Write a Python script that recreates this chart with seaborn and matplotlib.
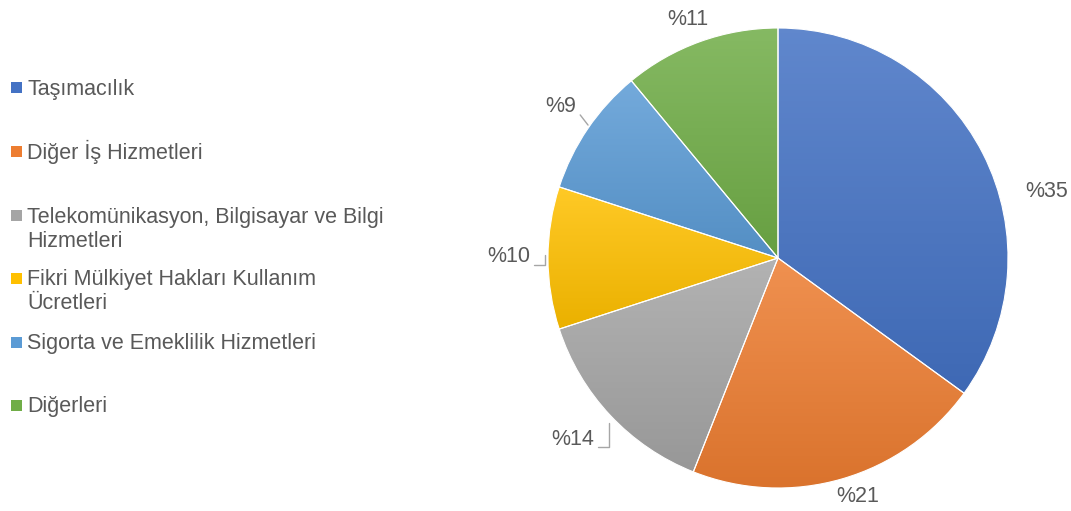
import numpy as np
import matplotlib
matplotlib.use("Agg")
import matplotlib.pyplot as plt
import matplotlib.colors as mcolors
from matplotlib.patches import Rectangle
import seaborn as sns

# veriler
categories = ["Taşımacılık", "Diğer İş Hizmetleri",
              "Telekomünikasyon, Bilgisayar ve Bilgi\nHizmetleri",
              "Fikri Mülkiyet Hakları Kullanım\nÜcretleri",
              "Sigorta ve Emeklilik Hizmetleri", "Diğerleri"]
shares = [35, 21, 14, 10, 9, 11]
pct_labels = ["%35", "%21", "%14", "%10", "%9", "%11"]
colors = ["#4472C4", "#ED7D31", "#A5A5A5", "#FFC000", "#5B9BD5", "#70AD47"]

sns.set_theme(style="white")
plt.rcParams["font.family"] = ["Liberation Sans", "DejaVu Sans"]
text_color = "#595959"

W, H = 1071, 511
fig = plt.figure(figsize=(W / 100, H / 100), dpi=100)

# pasta grafiği: merkez (778, 258), yarıçap 230 px
cx, cy, r = 778, 258, 230
ax = fig.add_axes([(cx - r) / W, (H - cy - r) / H, 2 * r / W, 2 * r / H])
wedges, _ = ax.pie(shares, colors=colors, startangle=90, counterclock=False,
                   wedgeprops=dict(linewidth=0.8, edgecolor="white"))
ax.set_xlim(-1, 1)
ax.set_ylim(-1, 1)
ax.set_aspect("equal")
ax.axis("off")


def shade(c, f):
    rgb = np.array(mcolors.to_rgb(c))
    if f > 0:
        return rgb + (1 - rgb) * f
    return rgb * (1 + f)


# Excel tarzı dikey degrade
for w, c in zip(wedges, colors):
    bb = w.get_path().get_extents(w.get_patch_transform())
    top, bot = shade(c, 0.15), shade(c, -0.08)
    t = np.linspace(0, 1, 64)[:, None]
    grad = (top[None, :] * (1 - t) + bot[None, :] * t)[:, None, :]
    im = ax.imshow(grad, extent=[bb.x0, bb.x1, bb.y0, bb.y1], aspect="auto",
                   origin="upper", zorder=w.get_zorder() + 0.1)
    im.set_clip_path(w)
    w.set_facecolor("none")
    w.set_zorder(w.get_zorder() + 0.2)

# etiketler
label_pos = [(1.170, 0.287), (0.348, -1.039), (-0.893, -0.791),
             (-1.171, 0.006), (-0.943, 0.658), (-0.392, 1.035)]
for lab, (x, y) in zip(pct_labels, label_pos):
    ax.text(x, y, lab, ha="center", va="center", fontsize=15.5,
            color=text_color, clip_on=False)

# kılavuz çizgileri
leader = dict(color="#A6A6A6", lw=1, clip_on=False)
ax.plot([-0.783, -0.733, -0.733], [-0.820, -0.820, -0.719], **leader)
ax.plot([-1.061, -1.011, -1.011], [-0.030, -0.030, 0.013], **leader)
ax.plot([-0.860, -0.826], [0.622, 0.578], **leader)

# lejant (ilk satırın taban çizgisi, piksel)
legend_base = [95, 159, 223, 285, 349, 412]
line_step = 24
for name, c, y in zip(categories, colors, legend_base):
    fig.add_artist(Rectangle((11 / W, (H - y + 1.5) / H), 11 / W, 11 / H,
                             transform=fig.transFigure, facecolor=c,
                             edgecolor="none"))
    for i, part in enumerate(name.split("\n")):
        fig.text(27 / W, (H - y - i * line_step) / H, part, ha="left",
                 va="baseline", fontsize=15.5, color=text_color)

fig.savefig("out.png", dpi=100, facecolor="white")
